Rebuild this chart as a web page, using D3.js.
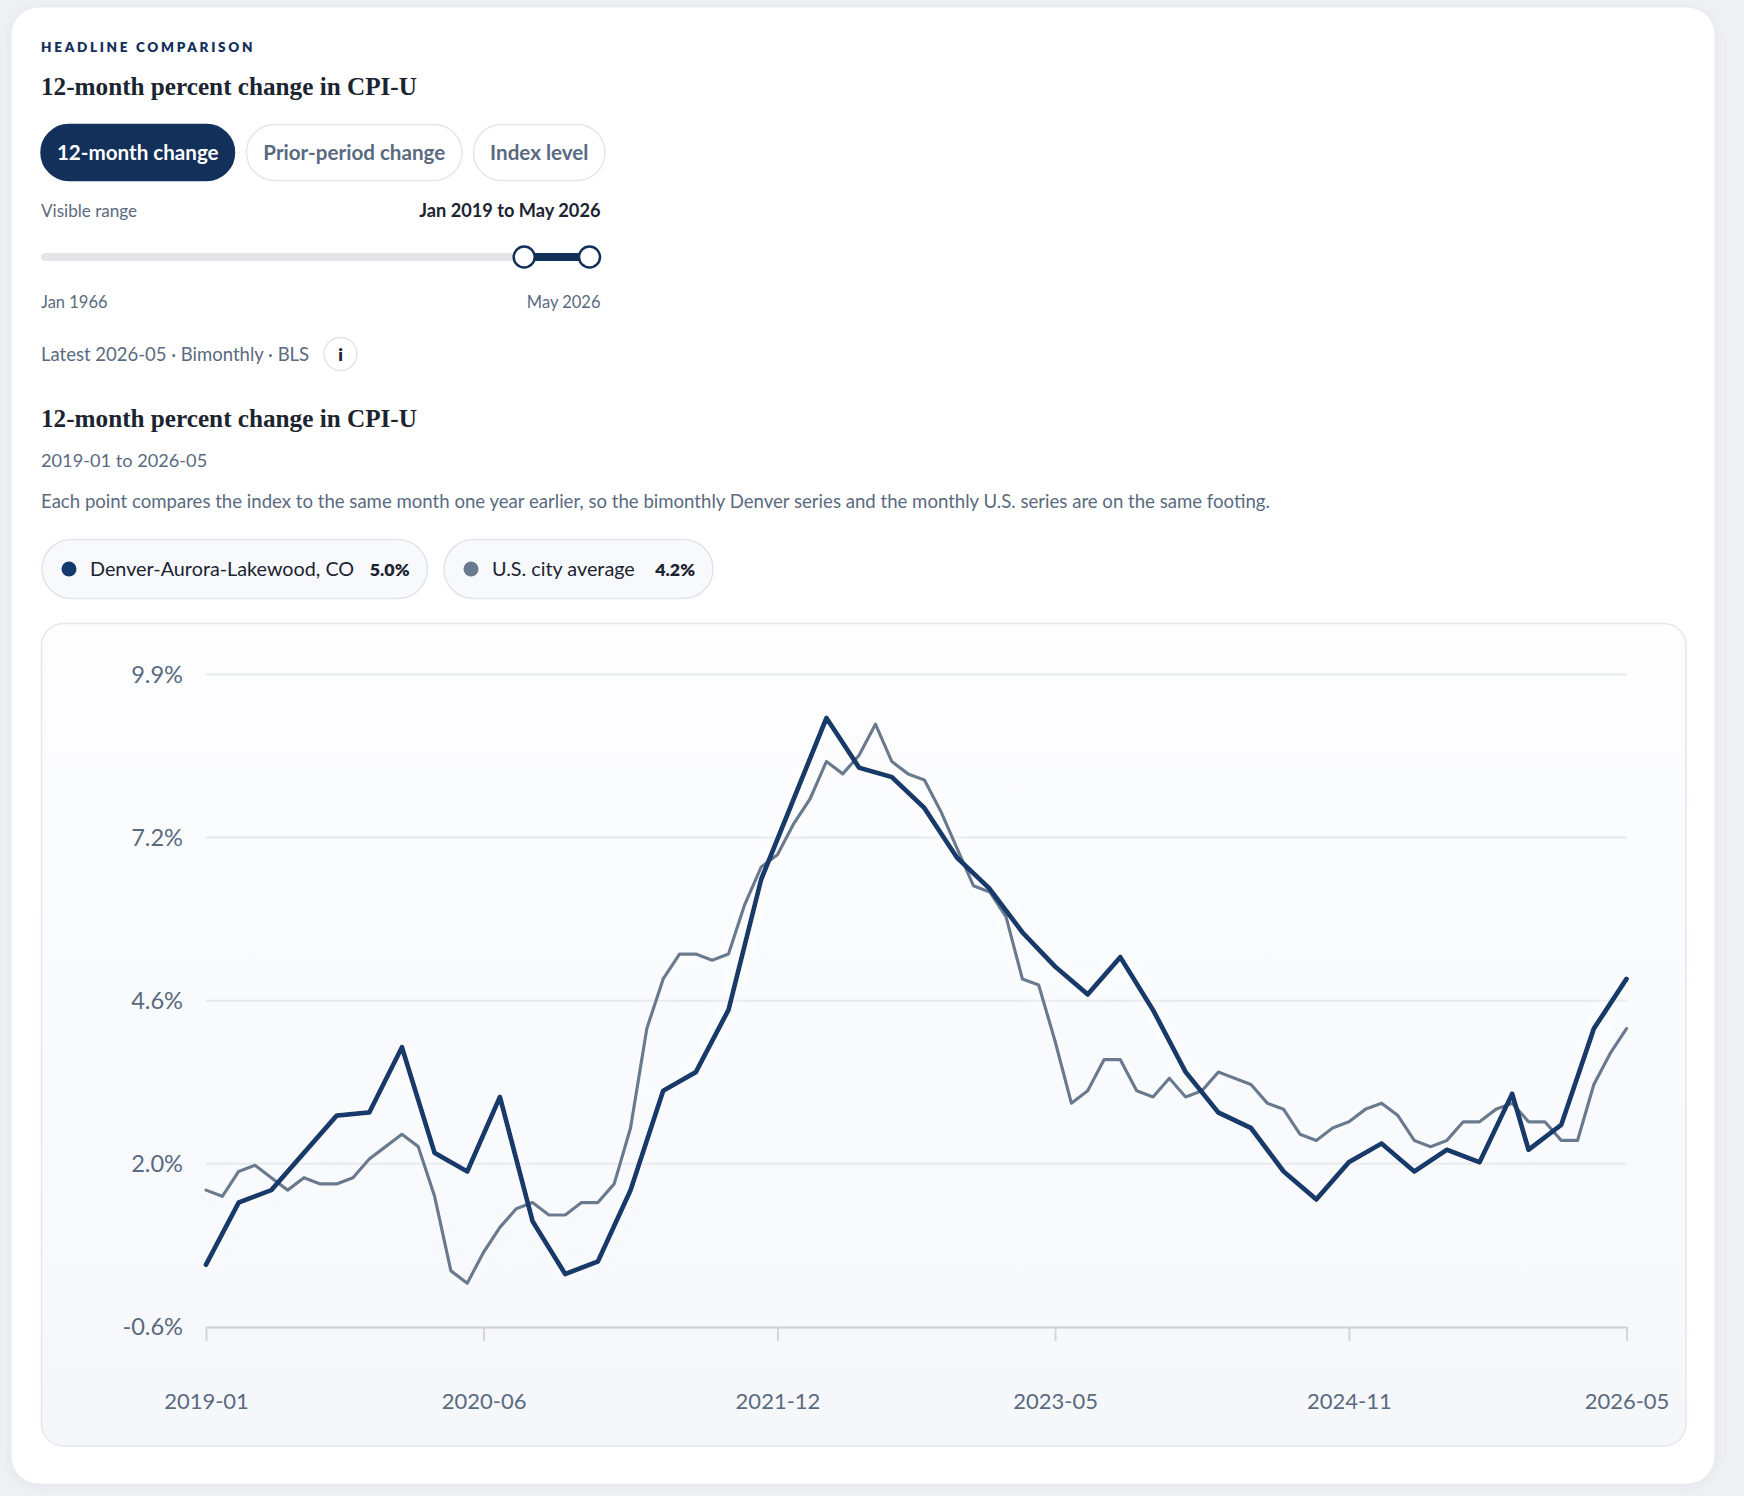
<!DOCTYPE html>
<html>
<head>
<meta charset="utf-8">
<title>12-month percent change in CPI-U</title>
<script src="https://cdn.jsdelivr.net/npm/d3@7"></script>
<style>
  html, body { margin: 0; padding: 0; background: #eef0f3; }
  svg { display: block; }
  .sans { font-family: "Lato", "Noto Sans", sans-serif; }
  .serif { font-family: "Liberation Serif", "DejaVu Serif", serif; }
</style>
</head>
<body>
<div id="chart"></div>
<script>
'use strict';

// ---- data ----
var denverDates = [
  '2019-01','2019-03','2019-05','2019-07','2019-09','2019-11',
  '2020-01','2020-03','2020-05','2020-07','2020-09','2020-11',
  '2021-01','2021-03','2021-05','2021-07','2021-09','2021-11',
  '2022-01','2022-03','2022-05','2022-07','2022-09','2022-11',
  '2023-01','2023-03','2023-05','2023-07','2023-09','2023-11',
  '2024-01','2024-03','2024-05','2024-07','2024-09','2024-11',
  '2025-01','2025-03','2025-05','2025-07','2025-09','2025-11',
  '2026-01','2026-03','2026-05'
];
var denverValues = [
  0.4, 1.4, 1.6, 2.2, 2.8, 2.85,
  3.9, 2.2, 1.9, 3.1, 1.1, 0.25,
  0.45, 1.6, 3.2, 3.5, 4.5, 6.6,
  7.9, 9.2, 8.4, 8.25, 7.75, 6.95,
  6.45, 5.75, 5.2, 4.75, 5.35, 4.5,
  3.5, 2.85, 2.6, 1.9, 1.45, 2.05,
  2.35, 1.9, 2.25, 2.05, 3.15, 2.25,
  2.65, 4.2, 5.0
];

// monthly U.S. series (no October 2025 release)
var usDates = [
  '2019-01','2019-02','2019-03','2019-04','2019-05','2019-06','2019-07','2019-08','2019-09','2019-10','2019-11','2019-12',
  '2020-01','2020-02','2020-03','2020-04','2020-05','2020-06','2020-07','2020-08','2020-09','2020-10','2020-11','2020-12',
  '2021-01','2021-02','2021-03','2021-04','2021-05','2021-06','2021-07','2021-08','2021-09','2021-10','2021-11','2021-12',
  '2022-01','2022-02','2022-03','2022-04','2022-05','2022-06','2022-07','2022-08','2022-09','2022-10','2022-11','2022-12',
  '2023-01','2023-02','2023-03','2023-04','2023-05','2023-06','2023-07','2023-08','2023-09','2023-10','2023-11','2023-12',
  '2024-01','2024-02','2024-03','2024-04','2024-05','2024-06','2024-07','2024-08','2024-09','2024-10','2024-11','2024-12',
  '2025-01','2025-02','2025-03','2025-04','2025-05','2025-06','2025-07','2025-08','2025-09','2025-11','2025-12',
  '2026-01','2026-02','2026-03','2026-04','2026-05'
];
var usValues = [
  1.6, 1.5, 1.9, 2.0, 1.8, 1.6, 1.8, 1.7, 1.7, 1.8, 2.1, 2.3,
  2.5, 2.3, 1.5, 0.3, 0.1, 0.6, 1.0, 1.3, 1.4, 1.2, 1.2, 1.4,
  1.4, 1.7, 2.6, 4.2, 5.0, 5.4, 5.4, 5.3, 5.4, 6.2, 6.8, 7.0,
  7.5, 7.9, 8.5, 8.3, 8.6, 9.1, 8.5, 8.3, 8.2, 7.7, 7.1, 6.5,
  6.4, 6.0, 5.0, 4.9, 4.0, 3.0, 3.2, 3.7, 3.7, 3.2, 3.1, 3.4,
  3.1, 3.2, 3.5, 3.4, 3.3, 3.0, 2.9, 2.5, 2.4, 2.6, 2.7, 2.9,
  3.0, 2.8, 2.4, 2.3, 2.4, 2.7, 2.7, 2.9, 3.0, 2.7, 2.7,
  2.4, 2.4, 3.3, 3.8, 4.2
];

var seriesNames = ['Denver-Aurora-Lakewood, CO', 'U.S. city average'];
var seriesColors = ['#163a6b', '#6b7a8e'];

var yDomain = [-0.6, 9.9];
var yTickLabels = ['-0.6%', '2.0%', '4.6%', '7.2%', '9.9%'];
var xTickLabels = ['2019-01', '2020-06', '2021-12', '2023-05', '2024-11', '2026-05'];

var modeButtons = ['12-month change', 'Prior-period change', 'Index level'];
var rangeStart = '1966-01', rangeEnd = '2026-05';
var visibleStart = '2019-01', visibleEnd = '2026-05';

// ---- drawing ----
var W = 1744, H = 1496;
var ink = '#1b2430', muted = '#5a6a80', navy = '#13305a';

var svg = d3.select('#chart').append('svg')
  .attr('width', W).attr('height', H)
  .attr('viewBox', '0 0 ' + W + ' ' + H);

var defs = svg.append('defs');
var shadow = defs.append('filter').attr('id', 'cardShadow')
  .attr('x', '-5%').attr('y', '-5%').attr('width', '110%').attr('height', '110%');
shadow.append('feDropShadow').attr('dx', 0).attr('dy', 2).attr('stdDeviation', 6)
  .attr('flood-color', '#8a94a6').attr('flood-opacity', 0.12);

var panelGrad = defs.append('linearGradient').attr('id', 'panelGrad')
  .attr('x1', 0).attr('y1', 0).attr('x2', 0).attr('y2', 1);
panelGrad.append('stop').attr('offset', '0%').attr('stop-color', '#fdfdfe');
panelGrad.append('stop').attr('offset', '100%').attr('stop-color', '#f5f7fb');

var glow = defs.append('filter').attr('id', 'lineGlow')
  .attr('x', '-10%').attr('y', '-20%').attr('width', '120%').attr('height', '140%');
glow.append('feDropShadow').attr('dx', 0).attr('dy', 0).attr('stdDeviation', 10)
  .attr('flood-color', '#ffffff').attr('flood-opacity', 0.9);

// card
svg.append('rect').attr('x', 11).attr('y', 7).attr('width', 1704).attr('height', 1477)
  .attr('rx', 28).attr('fill', '#fff').attr('stroke', '#e9ebef')
  .attr('filter', 'url(#cardShadow)');

// header
svg.append('text').attr('class', 'sans')
  .attr('x', 41).attr('y', 52)
  .attr('font-size', 13.5).attr('font-weight', 800).attr('letter-spacing', 2.7)
  .attr('fill', navy).text('HEADLINE COMPARISON');

svg.append('text').attr('class', 'serif')
  .attr('x', 41).attr('y', 95)
  .attr('font-size', 25.2).attr('font-weight', 700).attr('fill', ink)
  .text('12-month percent change in CPI-U');

// mode buttons
var btnBoxes = [[41, 193.5], [246.5, 215.5], [473.5, 131.5]];
var btn = svg.append('g').selectAll('g').data(modeButtons).join('g')
  .attr('transform', function(d, i) { return 'translate(' + btnBoxes[i][0] + ',124.5)'; });
btn.append('rect')
  .attr('width', function(d, i) { return btnBoxes[i][1]; })
  .attr('height', 56).attr('rx', 28)
  .attr('fill', function(d, i) { return i === 0 ? navy : '#fff'; })
  .attr('stroke', function(d, i) { return i === 0 ? navy : '#e3e6eb'; })
  .attr('stroke-width', 1.5);
btn.append('text').attr('class', 'sans')
  .attr('x', function(d, i) { return btnBoxes[i][1] / 2; })
  .attr('y', 35.5).attr('text-anchor', 'middle')
  .attr('font-size', 20.6).attr('font-weight', 700)
  .attr('fill', function(d, i) { return i === 0 ? '#fff' : muted; })
  .text(function(d) { return d; });

// range slider
var parseMonth = d3.timeParse('%Y-%m');
var fmtRange = d3.timeFormat('%b %Y');
svg.append('text').attr('class', 'sans').attr('x', 41).attr('y', 216.5)
  .attr('font-size', 17.1).attr('fill', muted).text('Visible range');
svg.append('text').attr('class', 'sans').attr('x', 600.5).attr('y', 216.5)
  .attr('text-anchor', 'end').attr('font-size', 18.2).attr('font-weight', 700).attr('fill', ink)
  .text(fmtRange(parseMonth(visibleStart)) + ' to ' + fmtRange(parseMonth(visibleEnd)));

var sx = d3.scaleTime()
  .domain([parseMonth(rangeStart), parseMonth(rangeEnd)])
  .range([52, 589.5]);
var trackY = 257;
svg.append('line').attr('x1', 45).attr('x2', 596.5).attr('y1', trackY).attr('y2', trackY)
  .attr('stroke', '#e3e5e9').attr('stroke-width', 8).attr('stroke-linecap', 'round');
svg.append('line')
  .attr('x1', sx(parseMonth(visibleStart))).attr('x2', sx(parseMonth(visibleEnd)))
  .attr('y1', trackY).attr('y2', trackY)
  .attr('stroke', navy).attr('stroke-width', 8);
svg.selectAll('circle.thumb').data([visibleStart, visibleEnd]).join('circle')
  .attr('class', 'thumb')
  .attr('cx', function(d) { return sx(parseMonth(d)); }).attr('cy', trackY).attr('r', 10.5)
  .attr('fill', '#fff').attr('stroke', navy).attr('stroke-width', 2.5);

svg.append('text').attr('class', 'sans').attr('x', 41).attr('y', 307.5)
  .attr('font-size', 16.5).attr('fill', muted).text(fmtRange(parseMonth(rangeStart)));
svg.append('text').attr('class', 'sans').attr('x', 600.5).attr('y', 307.5)
  .attr('text-anchor', 'end').attr('font-size', 16.5).attr('fill', muted)
  .text(fmtRange(parseMonth(rangeEnd)));

svg.append('text').attr('class', 'sans').attr('x', 41).attr('y', 360.5)
  .attr('font-size', 18.5).attr('fill', muted)
  .text('Latest ' + visibleEnd + ' \u00b7 Bimonthly \u00b7 BLS');
svg.append('circle').attr('cx', 340.5).attr('cy', 354).attr('r', 16.5)
  .attr('fill', '#fff').attr('stroke', '#e3e6eb').attr('stroke-width', 1.5);
svg.append('text').attr('class', 'sans').attr('x', 340.5).attr('y', 360.5)
  .attr('text-anchor', 'middle').attr('font-size', 17.5).attr('font-weight', 800)
  .attr('fill', ink).text('i');

// chart heading
svg.append('text').attr('class', 'serif').attr('x', 41).attr('y', 427)
  .attr('font-size', 25.2).attr('font-weight', 700).attr('fill', ink)
  .text('12-month percent change in CPI-U');
svg.append('text').attr('class', 'sans').attr('x', 41).attr('y', 467)
  .attr('font-size', 18.2).attr('fill', muted)
  .text(visibleStart + ' to ' + visibleEnd);
svg.append('text').attr('class', 'sans').attr('x', 41).attr('y', 507.5)
  .attr('font-size', 18.6).attr('fill', muted)
  .text('Each point compares the index to the same month one year earlier, so the bimonthly Denver series and the monthly U.S. series are on the same footing.');

// legend pills
var latest = [denverValues[denverValues.length - 1], usValues[usValues.length - 1]];
var pillBoxes = [[42, 385.5], [444, 269]];
var pill = svg.append('g').selectAll('g').data(seriesNames).join('g')
  .attr('transform', function(d, i) { return 'translate(' + pillBoxes[i][0] + ',539.5)'; });
pill.append('rect')
  .attr('width', function(d, i) { return pillBoxes[i][1]; })
  .attr('height', 59).attr('rx', 29.5)
  .attr('fill', '#f8f9fc').attr('stroke', '#e1e5eb').attr('stroke-width', 1.5);
pill.append('circle').attr('cx', 27).attr('cy', 29.5).attr('r', 7.5)
  .attr('fill', function(d, i) { return seriesColors[i]; });
pill.append('text').attr('class', 'sans').attr('x', 48).attr('y', 36.5)
  .attr('font-size', 19.8).attr('fill', ink).text(function(d) { return d; });
pill.append('text').attr('class', 'sans')
  .attr('x', function(d, i) { return pillBoxes[i][1] - 18; }).attr('y', 36.5)
  .attr('text-anchor', 'end').attr('font-size', 17.8).attr('font-weight', 800).attr('fill', ink)
  .text(function(d, i) { return latest[i].toFixed(1) + '%'; });

// chart panel
svg.append('rect').attr('x', 41.5).attr('y', 623.5).attr('width', 1644.5).attr('height', 822.5)
  .attr('rx', 22).attr('fill', 'url(#panelGrad)').attr('stroke', '#e4e7ec').attr('stroke-width', 1.5);

var allDates = Array.from(new Set(denverDates.concat(usDates))).sort();
var x = d3.scalePoint().domain(allDates).range([206, 1626.5]);
var y = d3.scaleLinear().domain(yDomain).range([1326.8, 674.5]);
var yTickValues = yTickLabels.map(function(d, i) {
  return yDomain[0] + i * (yDomain[1] - yDomain[0]) / (yTickLabels.length - 1);
});

// gridlines
svg.append('g').selectAll('line').data(yTickValues.slice(1)).join('line')
  .attr('x1', 206).attr('x2', 1626.5)
  .attr('y1', function(d) { return y(d); }).attr('y2', function(d) { return y(d); })
  .attr('stroke', '#e6e8ec').attr('stroke-width', 2);

// y axis (labels only)
var yAxis = d3.axisLeft(y).tickValues(yTickValues)
  .tickFormat(function(d, i) { return yTickLabels[i]; })
  .tickSize(0).tickPadding(23);
var gy = svg.append('g').attr('transform', 'translate(206,0)').call(yAxis);
gy.select('.domain').remove();
gy.selectAll('text').attr('class', 'sans').attr('font-size', 23.6).attr('fill', muted)
  .attr('font-family', null);

// x axis
var xAxis = d3.axisBottom(x).tickValues(xTickLabels).tickSize(14).tickSizeOuter(0).tickPadding(52);
var gx = svg.append('g').attr('transform', 'translate(0,1327)').call(xAxis);
gx.select('.domain').attr('stroke', '#c9cdd5').attr('stroke-width', 2);
gx.selectAll('.tick line').attr('stroke', '#d2d6dd').attr('stroke-width', 2);
gx.selectAll('text').attr('class', 'sans').attr('font-size', 22).attr('fill', muted)
  .attr('font-family', null);

// lines
var line = d3.line()
  .x(function(d) { return x(d[0]); })
  .y(function(d) { return y(d[1]); });
var lines = svg.append('g').attr('filter', 'url(#lineGlow)');
lines.append('path')
  .datum(usDates.map(function(d, i) { return [d, usValues[i]]; }))
  .attr('d', line).attr('fill', 'none')
  .attr('stroke', seriesColors[1]).attr('stroke-width', 3.2)
  .attr('stroke-linejoin', 'round').attr('stroke-linecap', 'round');
lines.append('path')
  .datum(denverDates.map(function(d, i) { return [d, denverValues[i]]; }))
  .attr('d', line).attr('fill', 'none')
  .attr('stroke', seriesColors[0]).attr('stroke-width', 4.8)
  .attr('stroke-linejoin', 'round').attr('stroke-linecap', 'round');
</script>
</body>
</html>
